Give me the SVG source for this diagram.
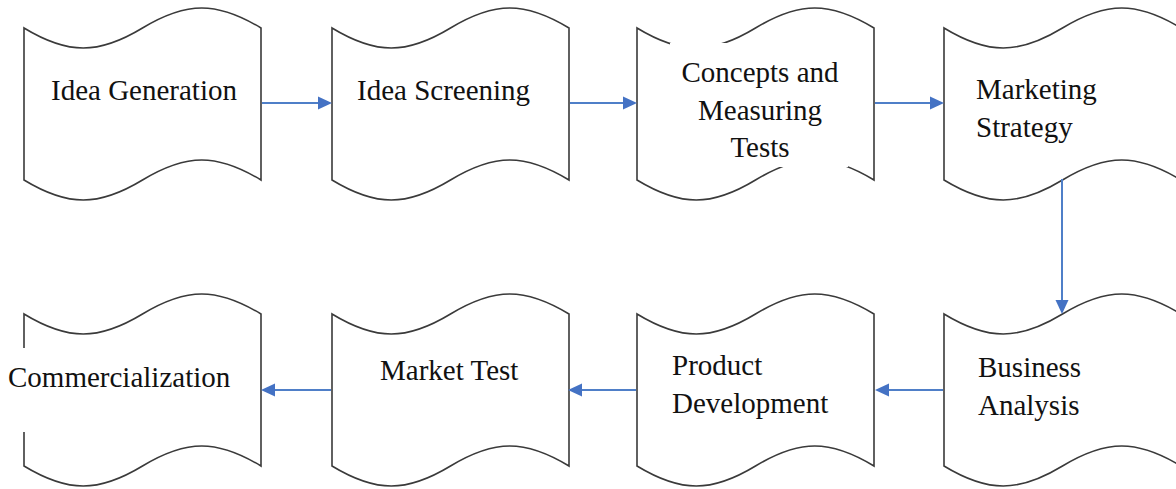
<svg xmlns="http://www.w3.org/2000/svg" width="1176" height="489" viewBox="0 0 1176 489">
<style>
.box{fill:#ffffff;stroke:#3a3a3a;stroke-width:1.6}
.lbl{font-family:'Liberation Serif','Times New Roman',Times,serif;font-size:29px;fill:#111111}
.cn{stroke:#4f7fc8;stroke-width:2;fill:none}
.ah{fill:#4472c4}
.mask{fill:#ffffff}
</style>
<defs>
<path id="tape" d="M0,0 C44,26.7 74.5,26.7 118.5,0 C162.5,-26.7 193,-26.7 237,0 L237,152 C193,125.3 162.5,125.3 118.5,152 C74.5,178.7 44,178.7 0,152 Z"/>
</defs>
<rect width="1176" height="489" fill="#ffffff"/>
<g id="n1">
<use href="#tape" class="box" x="24" y="28"/>
<text class="lbl" x="51" y="100">Idea Generation</text>
</g>
<g id="n2">
<use href="#tape" class="box" x="332" y="28"/>
<text class="lbl" x="357" y="100">Idea Screening</text>
</g>
<g id="n3">
<use href="#tape" class="box" x="637" y="28"/>
<rect class="mask" x="670" y="43" width="178" height="124"/>
<text class="lbl" text-anchor="middle" x="760" y="82">Concepts and</text>
<text class="lbl" text-anchor="middle" x="760" y="120">Measuring</text>
<text class="lbl" text-anchor="middle" x="760" y="157">Tests</text>
</g>
<g id="n4">
<use href="#tape" class="box" x="944" y="28"/>
<text class="lbl" x="976" y="99">Marketing</text>
<text class="lbl" x="976" y="137">Strategy</text>
</g>
<g id="n5">
<use href="#tape" class="box" x="944" y="314"/>
<text class="lbl" x="978" y="377">Business</text>
<text class="lbl" x="978" y="415">Analysis</text>
</g>
<g id="n6">
<use href="#tape" class="box" x="637" y="314"/>
<text class="lbl" x="672" y="375">Product</text>
<text class="lbl" x="672" y="413">Development</text>
</g>
<g id="n7">
<use href="#tape" class="box" x="332" y="314"/>
<text class="lbl" x="380" y="380">Market Test</text>
</g>
<g id="n8">
<use href="#tape" class="box" x="24" y="314"/>
<rect class="mask" x="4" y="348" width="232" height="84"/>
<text class="lbl" x="8" y="387">Commercialization</text>
</g>
<g id="connectors">
<line class="cn" x1="262" y1="103" x2="320" y2="103"/>
<polygon class="ah" points="332,103 318,96.5 318,109.5"/>
<line class="cn" x1="570" y1="103" x2="625" y2="103"/>
<polygon class="ah" points="637,103 623,96.5 623,109.5"/>
<line class="cn" x1="875" y1="103" x2="932" y2="103"/>
<polygon class="ah" points="944,103 930,96.5 930,109.5"/>
<line class="cn" x1="1062" y1="179" x2="1062" y2="301"/>
<polygon class="ah" points="1062,314 1055.5,300 1068.5,300"/>
<line class="cn" x1="943" y1="390" x2="887" y2="390"/>
<polygon class="ah" points="875,390 889,383.5 889,396.5"/>
<line class="cn" x1="636" y1="390" x2="580" y2="390"/>
<polygon class="ah" points="568,390 582,383.5 582,396.5"/>
<line class="cn" x1="331" y1="390" x2="273" y2="390"/>
<polygon class="ah" points="261,390 275,383.5 275,396.5"/>
</g>
</svg>
